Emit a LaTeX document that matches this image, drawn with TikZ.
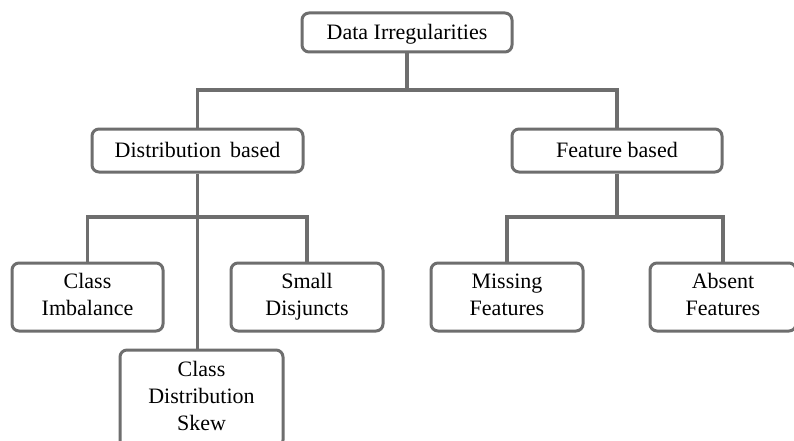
\documentclass[tikz,border=0pt]{standalone}
\usepackage{fontspec}
\setmainfont{Liberation Serif}
\definecolor{linegray}{HTML}{6E6E6E}
\begin{document}
\begin{tikzpicture}[x=1pt,y=-1pt,
  box/.style={draw=linegray, line width=3pt, rounded corners=7pt, align=center,
    font=\fontsize{22}{27}\selectfont, inner sep=0pt, text=black},
  onebox/.style={box, text height=14.5pt, text depth=0pt},
  conn/.style={draw=linegray, line width=3.2pt}]
\clip (0,0) rectangle (794,441);
\fill[white] (0,0) rectangle (794,441);
\node[onebox, minimum width=210pt, minimum height=39pt] (DI) at (407,32.5) {Data Irregularities};
\node[onebox, minimum width=211pt, minimum height=43pt] (DB) at (197.5,150.5) {Distribution\, based};
\node[onebox, minimum width=210pt, minimum height=43pt] (FB) at (617,150.5) {Feature based};
\node[box, minimum width=151pt, minimum height=68pt] (CI) at (87.5,297) {\strut Class\\Imbalance\strut};
\node[box, minimum width=152pt, minimum height=68pt] (SD) at (307,297) {\strut Small\\Disjuncts\strut};
\node[box, minimum width=163pt, minimum height=97pt] (CDS) at (201.5,398.5) {\strut Class\\Distribution\\Skew\strut};
\node[box, minimum width=152pt, minimum height=68pt] (MF) at (507,297) {\strut Missing\\Features\strut};
\node[box, minimum width=146pt, minimum height=68pt] (AF) at (723,297) {\strut Absent\\Features\strut};
\coordinate (j1) at (407,90);
\coordinate (j2) at (197.5,217);
\coordinate (j3) at (617,217);
\draw[conn] (DI.south) -- (j1);
\draw[conn] (DB.north) -- (DB.north |- j1) -- (FB.north |- j1) -- (FB.north);
\draw[conn] (DB.south) -- (DB.south |- CDS.north);
\draw[conn] (CI.north) -- (CI.north |- j2) -- (SD.north |- j2) -- (SD.north);
\draw[conn] (FB.south) -- (j3);
\draw[conn] (MF.north) -- (MF.north |- j3) -- (AF.north |- j3) -- (AF.north);
\end{tikzpicture}
\end{document}
